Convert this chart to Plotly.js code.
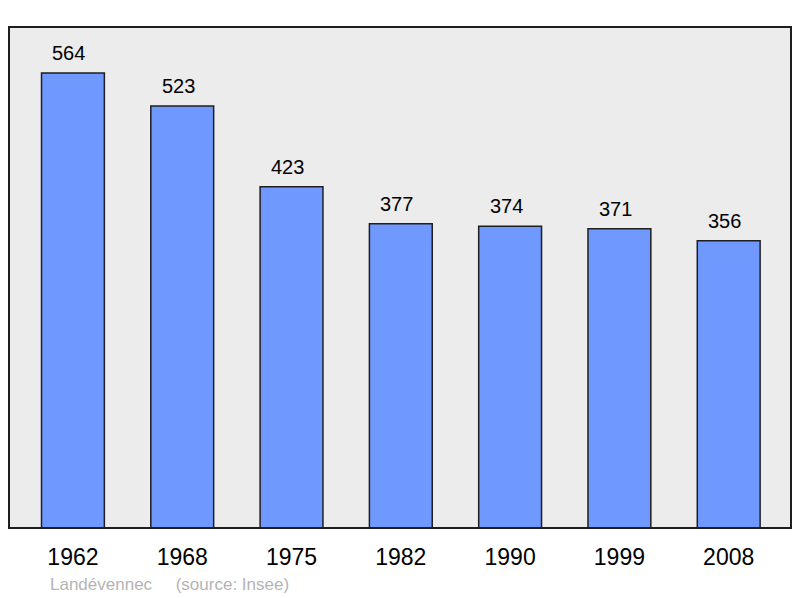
<!DOCTYPE html>
<html>
<head>
<meta charset="utf-8">
<script src="https://cdn.plot.ly/plotly-3.0.1.min.js"></script>
<style>
  body { margin: 0; background: #fff; }
  #chart { width: 800px; height: 598px; }
</style>
</head>
<body>
<div id="chart"></div>
<script>
let years = ['1962', '1968', '1975', '1982', '1990', '1999', '2008'];
let population = [564, 523, 423, 377, 374, 371, 356];
let commune = 'Landévennec';
let source = '(source: Insee)';

main();

function main() {
    let trace = {
        x: years,
        y: population,
        type: 'bar',
        width: 0.575,
        marker: {
            color: '#7099ff',
            line: {color: '#1e1e1e', width: 1.5}
        },
        hoverinfo: 'none'
    };

    // value labels sit a bit above each bar (x by index, the years read as numbers otherwise)
    let labels = years.map((yr, i) => ({
        x: i,
        y: population[i],
        text: String(population[i]),
        showarrow: false,
        yanchor: 'bottom',
        yshift: 7,
        xshift: -4,
        font: {family: 'Liberation Sans, Arial, sans-serif', size: 20, color: '#000'}
    }));

    labels.push({
        xref: 'paper', yref: 'paper',
        x: 0.05, y: -0.113,
        xanchor: 'left', yanchor: 'middle',
        text: commune + '&nbsp;&nbsp;&nbsp;&nbsp;&nbsp;' + source,
        showarrow: false,
        font: {family: 'Liberation Sans, Arial, sans-serif', size: 17, color: '#b4b4b4'}
    });

    let layout = {
        width: 800,
        height: 598,
        margin: {l: 9, r: 9, t: 27, b: 70},
        paper_bgcolor: '#ffffff',
        plot_bgcolor: '#ececec',
        showlegend: false,
        xaxis: {
            type: 'category',
            range: [-0.585, 6.57],
            showgrid: false,
            zeroline: false,
            showline: false,
            ticks: '',
            ticklabelstandoff: 13,
            tickfont: {family: 'Liberation Sans, Arial, sans-serif', size: 23, color: '#000'}
        },
        yaxis: {
            range: [0, 621],
            showgrid: false,
            zeroline: false,
            showline: false,
            showticklabels: false,
            ticks: ''
        },
        shapes: [{
            type: 'rect',
            xref: 'paper', yref: 'paper',
            x0: 0, x1: 1, y0: 0, y1: 1,
            line: {color: '#1e1e1e', width: 2},
            layer: 'above'
        }],
        annotations: labels
    };

    Plotly.newPlot('chart', [trace], layout, {displayModeBar: false, staticPlot: true});
}
</script>
</body>
</html>
